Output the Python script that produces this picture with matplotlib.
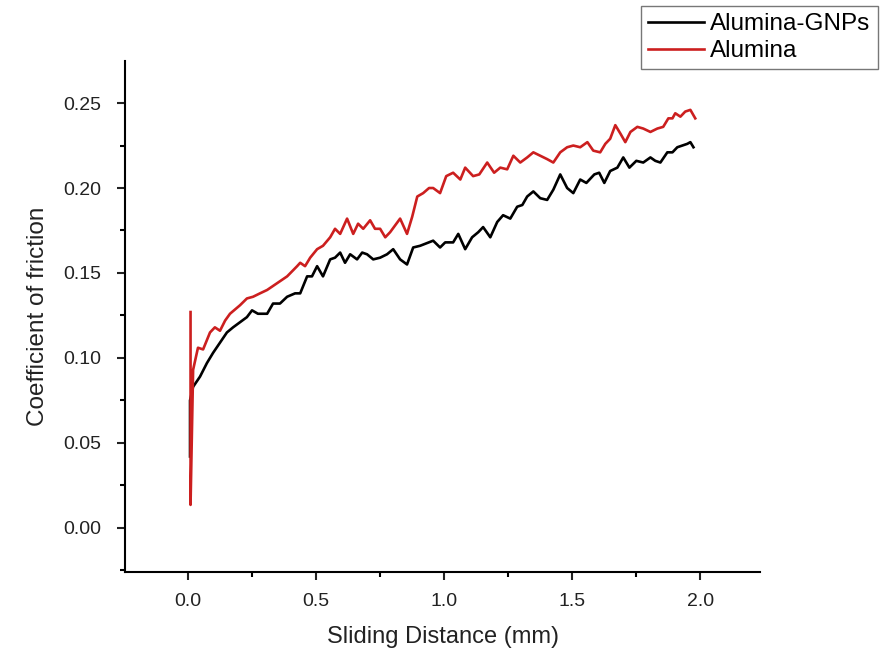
import numpy as np
import matplotlib
matplotlib.use("Agg")
from matplotlib import pyplot as plt
from matplotlib.ticker import MultipleLocator, FormatStrFormatter

# values (sliding distance in mm, coefficient of friction)
gnp_x = [0.008, 0.008, 0.020, 0.047, 0.074, 0.098, 0.125, 0.152, 0.176, 0.203,
         0.230, 0.250, 0.273, 0.309, 0.332, 0.359, 0.387, 0.418, 0.438, 0.465,
         0.484, 0.504, 0.527, 0.555, 0.574, 0.594, 0.613, 0.633, 0.660, 0.680,
         0.699, 0.723, 0.750, 0.777, 0.801, 0.828, 0.855, 0.879, 0.906, 0.957,
         0.984, 1.004, 1.035, 1.055, 1.082, 1.109, 1.133, 1.152, 1.180, 1.207,
         1.230, 1.258, 1.285, 1.305, 1.324, 1.348, 1.375, 1.402, 1.426, 1.453,
         1.480, 1.504, 1.531, 1.555, 1.586, 1.605, 1.625, 1.648, 1.676, 1.699,
         1.723, 1.750, 1.777, 1.805, 1.824, 1.844, 1.871, 1.891, 1.910, 1.949,
         1.961, 1.973]
gnp_y = [0.042, 0.075, 0.083, 0.089, 0.097, 0.103, 0.109, 0.115, 0.118, 0.121,
         0.124, 0.128, 0.126, 0.126, 0.132, 0.132, 0.136, 0.138, 0.138, 0.148,
         0.148, 0.154, 0.148, 0.158, 0.159, 0.162, 0.156, 0.161, 0.158, 0.162,
         0.161, 0.158, 0.159, 0.161, 0.164, 0.158, 0.155, 0.165, 0.166, 0.169,
         0.165, 0.168, 0.168, 0.173, 0.164, 0.171, 0.174, 0.177, 0.171, 0.180,
         0.184, 0.182, 0.189, 0.190, 0.195, 0.198, 0.194, 0.193, 0.199, 0.208,
         0.200, 0.197, 0.205, 0.203, 0.208, 0.209, 0.203, 0.210, 0.212, 0.218,
         0.212, 0.216, 0.215, 0.218, 0.216, 0.215, 0.221, 0.221, 0.224, 0.226,
         0.227, 0.224]

alu_x = [0.010, 0.010, 0.020, 0.039, 0.059, 0.086, 0.105, 0.125, 0.145, 0.164,
         0.203, 0.230, 0.254, 0.281, 0.309, 0.348, 0.387, 0.426, 0.438, 0.457,
         0.477, 0.504, 0.527, 0.555, 0.574, 0.594, 0.621, 0.645, 0.664, 0.684,
         0.711, 0.730, 0.750, 0.770, 0.789, 0.828, 0.855, 0.875, 0.895, 0.918,
         0.941, 0.957, 0.984, 1.008, 1.035, 1.063, 1.082, 1.113, 1.137, 1.168,
         1.195, 1.219, 1.246, 1.270, 1.297, 1.324, 1.348, 1.375, 1.402, 1.426,
         1.453, 1.480, 1.504, 1.531, 1.559, 1.582, 1.609, 1.629, 1.648, 1.668,
         1.688, 1.707, 1.727, 1.754, 1.777, 1.805, 1.832, 1.855, 1.875, 1.891,
         1.902, 1.922, 1.941, 1.961, 1.980]
alu_y = [0.127, 0.0135, 0.093, 0.106, 0.105, 0.115, 0.118, 0.116, 0.122, 0.126,
         0.131, 0.135, 0.136, 0.138, 0.140, 0.144, 0.148, 0.154, 0.156, 0.154,
         0.159, 0.164, 0.166, 0.171, 0.176, 0.173, 0.182, 0.173, 0.179, 0.176,
         0.181, 0.176, 0.176, 0.171, 0.174, 0.182, 0.173, 0.183, 0.195, 0.197,
         0.200, 0.200, 0.197, 0.207, 0.209, 0.205, 0.212, 0.207, 0.208, 0.215,
         0.209, 0.212, 0.211, 0.219, 0.215, 0.218, 0.221, 0.219, 0.217, 0.215,
         0.221, 0.224, 0.225, 0.224, 0.227, 0.222, 0.221, 0.226, 0.229, 0.237,
         0.232, 0.227, 0.233, 0.236, 0.235, 0.233, 0.235, 0.236, 0.241, 0.241,
         0.244, 0.242, 0.245, 0.246, 0.241]

plt.rcParams['font.family'] = ['Liberation Sans', 'DejaVu Sans']

fig = plt.figure(figsize=(8.8, 6.5), dpi=100)
ax = fig.add_axes([0.142, 0.12, 0.722, 0.786])

ax.plot(gnp_x, gnp_y, color='black', lw=1.9, label='Alumina-GNPs')
ax.plot(alu_x, alu_y, color='#cc1f1f', lw=1.9, label='Alumina')

ax.set_xlim(-0.246, 2.234)
ax.set_ylim(-0.026, 0.2747)
ax.xaxis.set_major_locator(MultipleLocator(0.5))
ax.xaxis.set_minor_locator(MultipleLocator(0.25))
ax.yaxis.set_major_locator(MultipleLocator(0.05))
ax.yaxis.set_minor_locator(MultipleLocator(0.025))
ax.xaxis.set_major_formatter(FormatStrFormatter('%.1f'))
ax.yaxis.set_major_formatter(FormatStrFormatter('%.2f'))

for s in ['top', 'right']:
    ax.spines[s].set_visible(False)
for s in ['left', 'bottom']:
    ax.spines[s].set_linewidth(1.5)

ax.tick_params(which='major', direction='out', length=6, width=1.5, labelsize=14, colors='#222222')
ax.tick_params(which='minor', direction='out', length=3.5, width=1.5)
ax.tick_params(axis='x', pad=9)
ax.tick_params(axis='y', pad=11)

ax.set_xlabel('Sliding Distance (mm)', fontsize=17, labelpad=12, color='#222222')
ax.set_ylabel('Coefficient of friction', fontsize=17.5, labelpad=10, color='#222222')

leg = fig.legend(loc='upper left', bbox_to_anchor=(641 / 880, 1 - 6 / 650),
                 fontsize=17.5, frameon=True, fancybox=False, borderaxespad=0,
                 handlelength=2.3, handletextpad=0.25, borderpad=0.3, labelspacing=0.2)
leg.get_frame().set_edgecolor('#555555')
leg.get_frame().set_linewidth(1.0)

fig.savefig('out.png', dpi=100)
plt.close(fig)
